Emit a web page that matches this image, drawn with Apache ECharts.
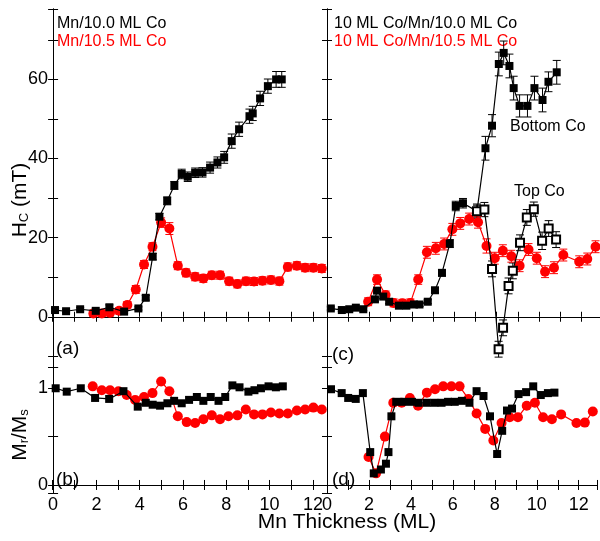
<!DOCTYPE html>
<html><head><meta charset="utf-8">
<script src="https://cdn.jsdelivr.net/npm/echarts@6/dist/echarts.min.js"></script>
<style>html,body{margin:0;padding:0;background:#fff}#c{width:600px;height:541px}</style>
</head><body><div id="c"></div>
<script>
// ---------- DATA ----------
// (a) Hc, Mn/10.0 ML Co
const aBlackX = [0.09,0.6,1.25,1.97,2.6,3.28,3.94,4.28,4.6,4.91,5.27,5.6,5.94,6.22,6.56,6.9,7.25,7.59,7.9,8.25,8.59,9.07,9.22,9.56,9.92,10.3,10.56];
const aBlackY = [1.7,1.4,1.9,1.5,2.4,1.3,2.1,4.8,15.2,25.3,29.3,33.2,36.1,35.4,36.4,36.5,37.7,39.0,40.3,44.4,47.4,50.7,51.4,55.2,58.3,60.0,60.0];
const aBlackErr = [0.4,0.4,0.4,0.4,0.6,0.4,0.4,0.6,0.8,0.8,1.0,1.0,1.2,1.2,1.2,1.2,1.4,1.4,1.5,1.8,1.8,1.8,1.8,1.8,1.8,2.0,2.0];
// (a) Hc, Mn/10.5 ML Co
const aRedX = [1.86,2.25,2.63,3.05,3.43,3.82,4.2,4.59,4.99,5.37,5.76,6.14,6.56,6.94,7.33,7.71,8.13,8.51,8.91,9.28,9.67,10.06,10.45,10.84,11.26,11.64,12.02,12.41];
const aRedY = [0.85,0.85,1.0,1.5,3.0,6.9,13.2,17.7,23.8,22.3,12.9,11.1,10.1,9.7,10.5,10.5,9.0,8.3,9.0,8.9,9.1,9.3,9.0,12.6,12.9,12.4,12.4,12.2];
const aRedErr = [0.8,0.8,0.8,0.8,0.8,1.0,1.0,1.0,1.2,1.5,1.0,1.0,1.0,1.0,1.0,1.0,1.0,1.0,1.0,1.0,1.0,1.0,1.0,1.0,1.0,1.0,1.0,1.0];
// (b) Mr/Ms
const bBlackX = [0.12,0.63,1.28,1.94,2.59,3.25,3.91,4.28,4.6,4.94,5.28,5.59,5.94,6.28,6.64,6.94,7.28,7.64,7.95,8.28,8.61,9.02,9.3,9.6,9.95,10.29,10.61];
const bBlackY = [1.0,0.965,1.0,0.90,0.89,0.97,0.81,0.85,0.83,0.82,0.845,0.87,0.845,0.88,0.91,0.87,0.91,0.87,0.91,1.03,1.01,0.965,0.98,1.0,1.02,1.01,1.02];
const bRedX = [1.83,2.25,2.63,3.02,3.4,3.79,4.2,4.59,4.99,5.37,5.76,6.17,6.56,6.94,7.33,7.71,8.1,8.51,8.9,9.28,9.67,10.06,10.45,10.84,11.26,11.64,12.02,12.41];
const bRedY = [1.02,0.98,0.98,0.97,0.93,0.88,0.91,0.95,1.07,0.97,0.71,0.65,0.64,0.68,0.72,0.68,0.71,0.72,0.78,0.73,0.73,0.75,0.74,0.74,0.77,0.78,0.80,0.78];
// (c) Hc, 10 ML Co/Mn/10.0 ML Co (Bottom Co branch after split)
const cBlackX = [0.18,0.7,1.05,1.36,1.71,2.26,2.36,2.65,2.93,3.39,3.74,4.1,4.36,4.75,5.09,5.42,5.79,6.07,6.41,7.07,7.47,7.78,8.1,8.33,8.6,8.8,9.08,9.45,9.78,10.16,10.44,10.83];
const cBlackY = [2.1,1.7,1.9,2.3,1.9,4.4,6.6,5.1,3.8,2.8,2.8,3.1,3.1,3.8,6.7,11.1,18.5,28.0,28.7,26.7,42.6,48.3,63.9,66.7,63.4,57.8,53.3,53.3,57.8,54.8,59.4,61.8];
const cBlackErr = [0.4,0.4,0.4,0.4,0.4,0.5,0.6,0.5,0.5,0.5,0.5,0.5,0.5,0.5,0.6,0.8,1.0,1.2,1.2,1.5,3.0,2.8,3.0,3.0,3.0,3.0,2.8,2.8,3.0,3.0,2.5,3.0];
// (c) Top Co branch
const cTopX = [7.07,7.42,7.78,8.09,8.3,8.56,8.76,9.1,9.42,9.75,10.14,10.45,10.8];
const cTopY = [26.7,27.1,12.1,-8.2,-2.8,7.8,11.6,18.7,25.1,27.2,19.2,22.3,19.5];
const cTopErr = [1.8,1.8,2.0,2.0,2.0,2.0,2.0,2.0,2.0,1.8,2.2,2.0,2.0];
// (c) Hc, 10 ML Co/Mn/10.5 ML Co
const cRedX = [1.94,2.36,2.76,3.14,3.55,3.93,4.3,4.71,5.13,5.52,5.91,6.28,6.7,7.12,7.52,7.91,8.29,8.69,9.08,9.5,9.89,10.28,10.7,11.14,11.89,12.27,12.66];
const cRedY = [3.8,9.4,5.5,3.5,3.4,3.5,9.4,16.3,17.3,18.4,22.1,23.6,24.7,23.9,17.9,14.8,16.7,15.3,12.9,17.0,14.8,11.4,12.4,15.6,13.9,14.6,17.7];
const cRedErr = [1.0,1.2,1.0,1.0,1.0,1.0,1.2,1.5,1.5,1.5,1.5,1.5,1.5,1.5,1.8,1.5,1.5,1.5,1.5,1.5,1.5,1.5,1.5,1.5,1.5,1.5,1.5];
// (d) Mr/Ms
const dBlackX = [0.19,0.7,1.01,1.37,1.71,2.06,2.23,2.57,2.81,2.93,3.07,3.3,3.67,4.05,4.37,4.76,5.12,5.46,5.77,6.09,6.43,6.79,7.13,7.46,7.77,8.11,8.35,8.58,8.82,9.13,9.49,9.83,10.19,10.53,10.84];
const dBlackY = [0.99,0.95,0.90,0.89,0.95,0.34,0.12,0.16,0.22,0.34,0.71,0.86,0.86,0.86,0.85,0.85,0.85,0.85,0.86,0.86,0.87,0.85,0.97,0.92,0.71,0.32,0.56,0.77,0.79,0.94,0.96,1.02,0.93,0.95,0.955];
const dRedX = [1.98,2.34,2.76,3.16,3.56,3.95,4.34,4.76,5.15,5.54,5.93,6.32,6.74,7.13,7.54,7.93,8.32,8.71,9.1,9.52,9.91,10.3,10.72,11.16,11.89,12.29,12.67];
const dRedY = [0.29,0.12,0.50,0.85,0.85,0.90,0.82,0.955,0.99,1.02,1.02,1.02,0.89,0.74,0.58,0.46,0.64,0.70,0.70,0.82,0.85,0.70,0.68,0.73,0.64,0.645,0.76];

const legendA = ['Mn/10.0 ML Co', 'Mn/10.5 ML Co'];
const legendC = ['10 ML Co/Mn/10.0 ML Co', '10 ML Co/Mn/10.5 ML Co'];
const panelLabels = ['(a)', '(b)', '(c)', '(d)'];
const xTitle = 'Mn Thickness (ML)';

// ---------- CHART ----------
const FONT = '"Liberation Sans", Arial, sans-serif';
const RED = '#ff0000', BLACK = '#000000';
const pairs = (xs, ys) => xs.map((x, i) => [x, ys[i]]);
const triples = (xs, ys, es) => xs.map((x, i) => [x, ys[i], es[i]]);

const grids = [
  {left: 52, top: 9, width: 275, height: 358},
  {left: 52, top: 367, width: 275, height: 126},
  {left: 327, top: 9, width: 275, height: 358},
  {left: 327, top: 367, width: 275, height: 126}
];
const xRange = [[-0.05, 12.65], [-0.05, 12.65], [0, 12.87], [0, 12.87]];
const yRange = [[-12.7, 77.8], [-0.083, 1.22], [-12.7, 77.8], [-0.083, 1.22]];
const yStep = [10, 0.5, 10, 0.5];
const yLabelStep = [20, 1, 20, 1];

const axLine = {show: true, lineStyle: {color: '#000', width: 1}};
const tick = {show: true, inside: true, length: 5, lineStyle: {color: '#000', width: 1}};
const xAxes = [], yAxes = [];
grids.forEach((g, i) => {
  const showX = (i === 1 || i === 3);
  const showY = (i === 0 || i === 1);
  ['bottom', 'top'].forEach(pos => {
    xAxes.push({
      type: 'value', gridIndex: i, position: pos, min: xRange[i][0], max: xRange[i][1],
      minInterval: 1, maxInterval: 1, splitLine: {show: false}, axisLine: axLine, axisTick: tick,
      axisLabel: {show: showX && pos === 'bottom', fontFamily: FONT, fontSize: 18, color: '#000', margin: 3,
        showMinLabel: true, showMaxLabel: true,
        formatter: v => (Math.abs(v - Math.round(v)) < 1e-6 && Math.round(v) % 2 === 0) ? String(Math.round(v)) : ''}
    });
  });
  ['left', 'right'].forEach(pos => {
    yAxes.push({
      type: 'value', gridIndex: i, position: pos, min: yRange[i][0], max: yRange[i][1],
      minInterval: yStep[i], maxInterval: yStep[i], splitLine: {show: false}, axisLine: axLine, axisTick: tick,
      axisLabel: {show: showY && pos === 'left', fontFamily: FONT, fontSize: 18, color: '#000', margin: 4,
        formatter: v => {
          const r = v / yLabelStep[i];
          return Math.abs(r - Math.round(r)) < 1e-6 ? String(Math.round(v)) : '';
        }}
    });
  });
});

function lineS(gi, xs, ys, color, symbol, size, z) {
  const empty = symbol.indexOf('empty') === 0;
  return {
    type: 'line', xAxisIndex: 2 * gi, yAxisIndex: 2 * gi, data: pairs(xs, ys),
    symbol, symbolSize: size, showAllSymbol: true, animation: false, z,
    lineStyle: {color, width: 1.2},
    itemStyle: {color, borderColor: color, borderWidth: empty ? 1.2 : 0},
    emphasis: {disabled: true}
  };
}
function errS(gi, xs, ys, es, color, z) {
  return {
    type: 'custom', xAxisIndex: 2 * gi, yAxisIndex: 2 * gi, data: triples(xs, ys, es),
    encode: {x: 0, y: 1}, silent: true, animation: false, z,
    renderItem(params, api) {
      const x = api.value(0), y = api.value(1), e = api.value(2);
      const lo = api.coord([x, y - e]), hi = api.coord([x, y + e]);
      const w = 4, st = {stroke: color, lineWidth: 1};
      return {type: 'group', children: [
        {type: 'line', shape: {x1: lo[0], y1: lo[1], x2: hi[0], y2: hi[1]}, style: st},
        {type: 'line', shape: {x1: lo[0] - w, y1: lo[1], x2: lo[0] + w, y2: lo[1]}, style: st},
        {type: 'line', shape: {x1: hi[0] - w, y1: hi[1], x2: hi[0] + w, y2: hi[1]}, style: st}
      ]};
    }
  };
}

const series = [
  errS(0, aBlackX, aBlackY, aBlackErr, BLACK, 2),
  errS(0, aRedX, aRedY, aRedErr, RED, 2),
  lineS(0, aBlackX, aBlackY, BLACK, 'rect', 8, 4),
  lineS(0, aRedX, aRedY, RED, 'circle', 10, 3),
  lineS(1, bBlackX, bBlackY, BLACK, 'rect', 8, 4),
  lineS(1, bRedX, bRedY, RED, 'circle', 10, 3),
  errS(2, cBlackX, cBlackY, cBlackErr, BLACK, 2),
  errS(2, cTopX, cTopY, cTopErr, BLACK, 2),
  errS(2, cRedX, cRedY, cRedErr, RED, 2),
  lineS(2, cRedX, cRedY, RED, 'circle', 10, 3),
  lineS(2, cBlackX, cBlackY, BLACK, 'rect', 8, 4),
  lineS(2, cTopX, cTopY, BLACK, 'emptyRect', 8, 5),
  lineS(3, dRedX, dRedY, RED, 'circle', 10, 3),
  lineS(3, dBlackX, dBlackY, BLACK, 'rect', 8, 4)
];

const txt = (x, y, text, fill, size, extra) => Object.assign({
  type: 'text', x, y, silent: true,
  style: {text, fill, font: size + 'px ' + FONT, verticalAlign: 'middle', align: 'left'}
}, extra || {});

const graphic = [
  txt(57, 24, legendA[0], BLACK, 16),
  txt(57, 42, legendA[1], RED, 16),
  txt(334, 24, legendC[0], BLACK, 16),
  txt(334, 42, legendC[1], RED, 16),
  txt(510, 127, 'Bottom Co', BLACK, 16),
  txt(514, 192, 'Top Co', BLACK, 16),
  txt(56, 349, panelLabels[0], BLACK, 19),
  txt(56, 480, panelLabels[1], BLACK, 19),
  txt(332, 355, panelLabels[2], BLACK, 19),
  txt(332, 480, panelLabels[3], BLACK, 19),
  {type: 'text', x: 347, y: 522, silent: true,
    style: {text: xTitle, fill: BLACK, font: '21px ' + FONT, align: 'center', verticalAlign: 'middle'}},
  {type: 'text', x: 20, y: 200, rotation: Math.PI / 2, silent: true,
    style: {text: '{m|H}{s|C}{m| (mT)}', align: 'center', verticalAlign: 'middle', fill: BLACK,
      rich: {m: {fontFamily: FONT, fontSize: 21, fill: BLACK, verticalAlign: 'bottom'},
             s: {fontFamily: FONT, fontSize: 13, fill: BLACK, verticalAlign: 'bottom', padding: [0, 0, 0, 0]}}}},
  {type: 'text', x: 20, y: 435, rotation: Math.PI / 2, silent: true,
    style: {text: '{m|M}{s|r}{m|/M}{s|s}', align: 'center', verticalAlign: 'middle', fill: BLACK,
      rich: {m: {fontFamily: FONT, fontSize: 21, fill: BLACK, verticalAlign: 'bottom'},
             s: {fontFamily: FONT, fontSize: 13, fill: BLACK, verticalAlign: 'bottom'}}}}
];

const chart = echarts.init(document.getElementById('c'), null, {renderer: 'canvas'});
chart.setOption({
  backgroundColor: '#fff', animation: false,
  grid: grids, xAxis: xAxes, yAxis: yAxes, series, graphic
});
</script></body></html>
